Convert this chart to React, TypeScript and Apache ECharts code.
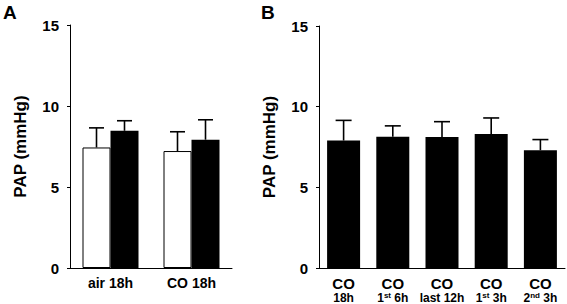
import React, { useEffect, useRef } from "react";
import * as echarts from "echarts";

const FONT = "'Liberation Sans', Arial, sans-serif";

// Panel A
const catsA = ["air 18h", "CO 18h"];
const whiteMeansA = [7.44, 7.22];
const whiteSdA = [1.21, 1.19];
const blackMeansA = [8.47, 7.92];
const blackSdA = [0.62, 1.23];

// Panel B
const catsB = ["{a|CO}\n{b|18h}", "{a|CO}\n{b|1}{s|st}{b| 6h}", "{a|CO}\n{b|last 12h}", "{a|CO}\n{b|1}{s|st}{b| 3h}", "{a|CO}\n{b|2}{s|nd}{b| 3h}"];
const meansB = [7.9, 8.13, 8.12, 8.31, 7.3];
const sdB = [1.25, 0.68, 0.95, 0.99, 0.66];

const yTicks = { min: 0, max: 15, interval: 5 };
const yTitle = "PAP (mmHg)";

function errSeries(xIdx: number, means: number[], sds: number[], offset: number, capHalf: number) {
  return {
    type: "custom",
    xAxisIndex: xIdx,
    yAxisIndex: xIdx,
    z: 5,
    encode: { x: 0, y: 1 },
    data: means.map((m, i) => [i, m, sds[i]]),
    renderItem: (_p: any, api: any) => {
      const x = api.value(0);
      const m = api.value(1);
      const sd = api.value(2);
      const p = api.coord([x, m]);
      const t = api.coord([x, m + sd]);
      const cx = p[0] + offset;
      const style = { stroke: "#000", lineWidth: 1.6 };
      return {
        type: "group",
        children: [
          { type: "line", shape: { x1: cx, y1: p[1], x2: cx, y2: t[1] }, style },
          { type: "line", shape: { x1: cx - capHalf, y1: t[1], x2: cx + capHalf, y2: t[1] }, style },
        ],
      };
    },
  };
}

function yAxis(grid: number) {
  return {
    type: "value",
    gridIndex: grid,
    ...yTicks,
    name: yTitle,
    nameLocation: "middle",
    nameGap: 41,
    nameRotate: 90,
    nameTextStyle: { fontFamily: FONT, fontWeight: "bold", fontSize: 17, color: "#000" },
    axisLine: { show: true, lineStyle: { color: "#000", width: 1 } },
    axisTick: { show: true, length: 3, lineStyle: { color: "#000" } },
    axisLabel: { fontFamily: FONT, fontWeight: "bold", fontSize: 15, color: "#000", margin: 11 },
    splitLine: { show: false },
  };
}

export default function App() {
  const ref = useRef<HTMLDivElement>(null);
  useEffect(() => {
    if (!ref.current) return;
    const chart = echarts.init(ref.current, undefined, { renderer: "svg" });
    chart.setOption({
      animation: false,
      backgroundColor: "#fff",
      grid: [
        { left: 70, top: 25, width: 162, bottom: 36 },
        { left: 319, top: 26, width: 246, bottom: 35 },
      ],
      xAxis: [
        {
          type: "category",
          gridIndex: 0,
          data: catsA,
          axisLine: { lineStyle: { color: "#000", width: 1 } },
          axisTick: { show: false },
          axisLabel: { fontFamily: FONT, fontWeight: "bold", fontSize: 14, color: "#000", margin: 8 },
        },
        {
          type: "category",
          gridIndex: 1,
          data: catsB,
          axisLine: { lineStyle: { color: "#000", width: 1 } },
          axisTick: { show: false },
          axisLabel: {
            margin: 7,
            interval: 0,
            rich: {
              a: { fontFamily: FONT, fontWeight: "bold", fontSize: 15, color: "#000", lineHeight: 16 },
              b: { fontFamily: FONT, fontWeight: "bold", fontSize: 12, color: "#000", lineHeight: 14 },
              s: { fontFamily: FONT, fontWeight: "bold", fontSize: 8, color: "#000", lineHeight: 14, verticalAlign: "top" },
            },
          },
        },
      ],
      yAxis: [yAxis(0), yAxis(1)],
      series: [
        {
          type: "bar",
          xAxisIndex: 0,
          yAxisIndex: 0,
          data: whiteMeansA,
          barWidth: 28,
          barGap: "0%",
          itemStyle: { color: "#fff", borderColor: "#000", borderWidth: 1 },
        },
        {
          type: "bar",
          xAxisIndex: 0,
          yAxisIndex: 0,
          data: blackMeansA,
          barWidth: 28,
          barGap: "0%",
          itemStyle: { color: "#000" },
        },
        errSeries(0, whiteMeansA, whiteSdA, -14, 7.5),
        errSeries(0, blackMeansA, blackSdA, 14, 7.5),
        {
          type: "bar",
          xAxisIndex: 1,
          yAxisIndex: 1,
          data: meansB,
          barWidth: 33,
          itemStyle: { color: "#000" },
        },
        errSeries(1, meansB, sdB, 0, 8),
      ],
      graphic: [
        { type: "text", left: 3, top: 3, style: { text: "A", fontFamily: FONT, fontWeight: "bold", fontSize: 19, fill: "#000" } },
        { type: "text", left: 261, top: 3, style: { text: "B", fontFamily: FONT, fontWeight: "bold", fontSize: 19, fill: "#000" } },
      ],
    });
    return () => chart.dispose();
  }, []);
  return <div ref={ref} style={{ position: "fixed", left: 0, top: 0, width: 567, height: 304 }} />;
}
